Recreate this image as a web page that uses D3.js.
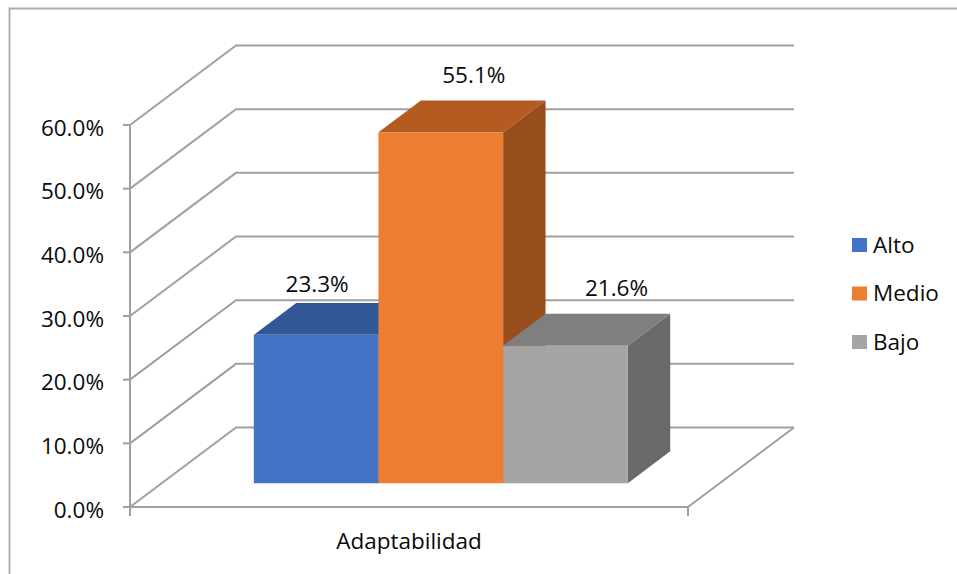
<!DOCTYPE html>
<html>
<head>
<meta charset="utf-8">
<script src="https://cdn.jsdelivr.net/npm/d3@7"></script>
<style>
  html, body { margin: 0; padding: 0; background: #fff; }
  svg { display: block; }
  text { font-family: "Open Sans", "Liberation Sans", sans-serif; fill: #0a0a0a; }
</style>
</head>
<body>
<svg id="chart" width="957" height="574"></svg>
<script>
// ---- data ----
const categories = ["Adaptabilidad"];
const series = ["Alto", "Medio", "Bajo"];
const values = [0.233, 0.551, 0.216];
const labels = ["23.3%", "55.1%", "21.6%"];
const yTicks = [0, 0.1, 0.2, 0.3, 0.4, 0.5, 0.6];
const yTickLabels = ["0.0%", "10.0%", "20.0%", "30.0%", "40.0%", "50.0%", "60.0%"];

// ---- styles ----
const frontColors = ["#4472C4", "#ED7D31", "#A5A5A5"];
const topColors   = ["#325796", "#B35B21", "#7F7F7F"];
const sideColors  = ["#2B4C85", "#984D1C", "#696969"];
const gridColor = "#A0A0A0";
const FS = 22.5;

const svg = d3.select("#chart");

// chart border
svg.append("path")
  .attr("d", "M9.5,580 L9.5,8.5 L970,8.5")
  .attr("fill", "none").attr("stroke", "#ABABAB").attr("stroke-width", 1.8);

// ---- scales & oblique projection ----
const y = d3.scaleLinear().domain([0, 0.6]).range([507, 125]);
const x0 = d3.scaleBand().domain(categories).range([130, 688]).paddingInner(0).paddingOuter(0.246);
const x1 = d3.scaleBand().domain(series).range([0, x0.bandwidth()]).padding(0);
const DX = 106, DY = 79.5;           // full depth offset
const px = (x, z) => x + DX * z;
const py = (v, z) => y(v) - DY * z;
const zFront = 0.3, zBack = 0.7;

// ---- gridlines (side wall + back wall) ----
const xL = x0.range()[0], xR = x0.range()[1];
svg.append("g").selectAll("path").data(yTicks).join("path")
  .attr("d", t => `M${px(xL,0)},${py(t,0)} L${px(xL,1)},${py(t,1)} L${px(xR,1)},${py(t,1)}`)
  .attr("fill", "none").attr("stroke", gridColor).attr("stroke-width", 2);

// floor edges
svg.append("path")
  .attr("d", `M${px(xL,0)},${py(0,0)} L${px(xR,0)},${py(0,0)} L${px(xR,1)},${py(0,1)}`)
  .attr("fill", "none").attr("stroke", gridColor).attr("stroke-width", 2);

// vertical axis + ticks
const axisG = svg.append("g");
axisG.append("line")
  .attr("x1", xL).attr("x2", xL).attr("y1", y(0.6)).attr("y2", y(0) + 9)
  .attr("stroke", gridColor).attr("stroke-width", 2);
axisG.selectAll("line.tk").data(yTicks).join("line").attr("class", "tk")
  .attr("x1", xL - 7).attr("x2", xL).attr("y1", d => y(d)).attr("y2", d => y(d))
  .attr("stroke", gridColor).attr("stroke-width", 2);
axisG.append("line")
  .attr("x1", xR).attr("x2", xR).attr("y1", y(0)).attr("y2", y(0) + 9)
  .attr("stroke", gridColor).attr("stroke-width", 2);
axisG.selectAll("text").data(yTicks).join("text")
  .attr("x", 104).attr("y", d => y(d) + 10.5)
  .attr("text-anchor", "end").attr("font-size", FS)
  .text((d, i) => yTickLabels[i]);

// category label
svg.append("text")
  .attr("x", x0(categories[0]) + x0.bandwidth() / 2).attr("y", 548.5)
  .attr("text-anchor", "middle").attr("font-size", FS)
  .text(categories[0]);

// ---- 3D bars ----
const barsG = svg.append("g");
series.forEach((s, i) => {
  const xa = x0(categories[0]) + x1(s), xb = xa + x1.bandwidth();
  const v = values[i];
  const g = barsG.append("g");
  g.append("path")
    .attr("d", `M${px(xb,zFront)},${py(0,zFront)} L${px(xb,zBack)},${py(0,zBack)} L${px(xb,zBack)},${py(v,zBack)} L${px(xb,zFront)},${py(v,zFront)}Z`)
    .attr("fill", sideColors[i]);
  g.append("path")
    .attr("d", `M${px(xa,zFront)},${py(v,zFront)} L${px(xa,zBack)},${py(v,zBack)} L${px(xb,zBack)},${py(v,zBack)} L${px(xb,zFront)},${py(v,zFront)}Z`)
    .attr("fill", topColors[i]);
  g.append("path")
    .attr("d", `M${px(xa,zFront)},${py(0,zFront)} L${px(xb,zFront)},${py(0,zFront)} L${px(xb,zFront)},${py(v,zFront)} L${px(xa,zFront)},${py(v,zFront)}Z`)
    .attr("fill", frontColors[i]);
});

// ---- data labels ----
const labelDx = [1, 33, 51], labelDy = [-43, -49, -50];
svg.append("g").selectAll("text").data(series).join("text")
  .attr("x", (s, i) => px(x0(categories[0]) + x1(s) + x1.bandwidth() / 2, zFront) + labelDx[i])
  .attr("y", (s, i) => py(values[i], zFront) + labelDy[i])
  .attr("text-anchor", "middle").attr("font-size", FS)
  .text((s, i) => labels[i]);

// ---- legend ----
const legend = svg.append("g").attr("transform", "translate(852,238)");
const li = legend.selectAll("g").data(series).join("g")
  .attr("transform", (d, i) => `translate(0,${i * 48.5})`);
li.append("rect").attr("width", 15).attr("height", 14).attr("fill", (d, i) => frontColors[i]);
li.append("text").attr("x", 21).attr("y", 14.5).attr("font-size", FS).text(d => d);
</script>
</body>
</html>
